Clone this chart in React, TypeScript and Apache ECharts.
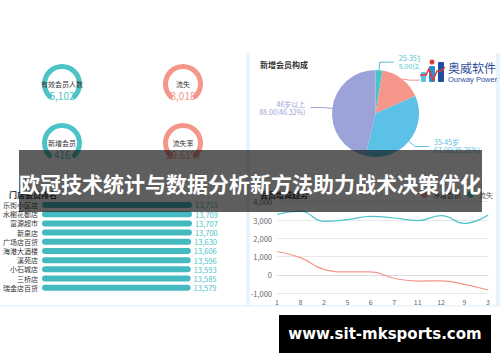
import React, { useEffect, useRef } from "react";
import * as echarts from "echarts";

const gaugeNames = ["有效会员人数", "流失", "新增会员", "流失率"];
const gaugeValues = ["5,102", "3,018", "416", "29.61%"];
const gaugeColors = ["#4cc3c7", "#f4978a", "#4cc3c7", "#f4978a"];

const pieNames = ["25-35岁", "18-25岁", "35-45岁", "46岁以上"];
const pieValues = [5, 30, 67, 88];
const pieColors = ["#4cc3c7", "#f4978a", "#5bc1e7", "#9ba3d9"];

const storeNames = ["乐街小区店", "水榭花都店", "富源超市", "新泉店", "广场店百货", "海港大酒楼", "溪苑店", "小石城店", "三桥店", "瑞金店百货"];
const storeValues = [13711, 13709, 13707, 13700, 13630, 13606, 13596, 13593, 13585, 13579];

const monthLabels = ["1", "8", "2", "5", "6", "7", "11", "12", "9", "3"];
const netValues = [1280, 950, 310, 165, 170, -180, -330, -320, -510, -820];
const lostValues = [3300, 3480, 2930, 3020, 3200, 3110, 2970, 3240, 2820, 3280];
const yTicks = { min: -1000, max: 4000, interval: 1000 };

export default function App() {
  const ref = useRef<HTMLDivElement>(null);
  useEffect(() => {
    if (!ref.current) return;
    const chart = echarts.init(ref.current, undefined, { renderer: "svg" });
    const gaugeCenters = [
      [62, 84],
      [183, 84],
      [62, 143],
      [183, 143],
    ];
    const gauges = gaugeNames.map((n, i) => ({
      type: "gauge",
      center: gaugeCenters[i],
      radius: 20,
      startAngle: 225,
      endAngle: -45,
      min: 0,
      max: 1,
      pointer: { show: false },
      axisTick: { show: false },
      splitLine: { show: false },
      axisLabel: { show: false },
      axisLine: { roundCap: true, lineStyle: { width: 5, color: [[1, gaugeColors[i]]] } },
      title: { offsetCenter: [0, 0], fontSize: 7, color: "#333" },
      detail: {
        offsetCenter: [0, 11],
        fontSize: 10,
        fontWeight: "normal",
        color: gaugeColors[i],
        formatter: () => gaugeValues[i],
      },
      data: [{ value: 1, name: n }],
    }));
    const F = "'Noto Sans CJK SC', 'Noto Sans', sans-serif";
    chart.setOption({
      animation: false,
      textStyle: { fontFamily: F },
      title: [
        { text: "新增会员构成", left: 255, top: 55, textStyle: { fontSize: 8, fontWeight: "bold", color: "#333" } },
        { text: "门店会员排名", left: 4, top: 185, textStyle: { fontSize: 8, fontWeight: "bold", color: "#333" } },
        { text: "会员增减趋势", left: 255, top: 185, textStyle: { fontSize: 8, fontWeight: "bold", color: "#333" } },
      ],
      legend: {
        data: ["净增会员", "流失"],
        right: 2,
        top: 186,
        itemWidth: 7,
        itemHeight: 7,
        itemGap: 6,
        icon: "circle",
        textStyle: { fontSize: 7, color: "#666" },
      },
      grid: [
        { left: 40, width: 152, top: 200.4, height: 91.9 },
        { left: 277, right: 12, top: 201.7, bottom: 68.7 },
      ],
      xAxis: [
        { gridIndex: 0, type: "value", min: 0, max: 13711, show: false },
        {
          gridIndex: 1,
          type: "category",
          data: monthLabels,
          boundaryGap: false,
          axisLine: { lineStyle: { color: "#ddd" } },
          axisTick: { show: false },
          axisLabel: { fontSize: 7, color: "#666", margin: 5 },
        },
      ],
      yAxis: [
        {
          gridIndex: 0,
          type: "category",
          data: storeNames,
          inverse: true,
          axisLine: { show: false },
          axisTick: { show: false },
          axisLabel: { fontSize: 7, color: "#333", margin: 4 },
        },
        {
          gridIndex: 1,
          type: "value",
          min: yTicks.min,
          max: yTicks.max,
          interval: yTicks.interval,
          axisLine: { show: false },
          axisTick: { show: false },
          splitLine: { lineStyle: { color: "#e8e8e8" } },
          axisLabel: { fontSize: 7.5, color: "#666", margin: 5 },
        },
      ],
      series: [
        ...gauges,
        {
          type: "pie",
          center: [375.5, 113.5],
          radius: 43.5,
          startAngle: 90,
          label: {
            fontSize: 7,
            lineHeight: 8,
            formatter: (p: any) => `${p.name}\n${p.value.toFixed(2)}(${p.percent.toFixed(2)}%)`,
          },
          labelLine: { length: 8, length2: 14, lineStyle: { width: 1 } },
          data: pieNames.map((n, i) => ({
            name: n,
            value: pieValues[i],
            itemStyle: { color: pieColors[i] },
            label: { color: pieColors[i] },
          })),
        },
        {
          type: "bar",
          xAxisIndex: 0,
          yAxisIndex: 0,
          data: storeValues,
          barWidth: 6,
          itemStyle: { color: "#45b9c0", borderRadius: 3 },
          label: {
            show: true,
            position: "right",
            distance: 3,
            fontSize: 7.5,
            color: "#4cc3c7",
            formatter: (p: any) => p.value.toLocaleString("en-US"),
          },
        },
        {
          type: "line",
          name: "净增会员",
          xAxisIndex: 1,
          yAxisIndex: 1,
          data: netValues,
          smooth: true,
          showSymbol: false,
          itemStyle: { color: "#f4978a" },
          lineStyle: { width: 1.2, color: "#f4978a" },
        },
        {
          type: "line",
          name: "流失",
          xAxisIndex: 1,
          yAxisIndex: 1,
          data: lostValues,
          smooth: true,
          showSymbol: false,
          itemStyle: { color: "#4cc3c7" },
          lineStyle: { width: 1.2, color: "#4cc3c7" },
        },
      ],
      graphic: [
        { type: "rect", z: 1, shape: { x: 246, y: 53, width: 4, height: 253 }, style: { fill: "#e9f3fb" } },
        { type: "rect", z: 1, shape: { x: 496, y: 53, width: 4, height: 253 }, style: { fill: "#e9f3fb" } },
        { type: "rect", z: 1, shape: { x: 0, y: 305, width: 500, height: 1.5 }, style: { fill: "#e9f3fb" } },
        // logo
        { type: "rect", z: 100, shape: { x: 420, y: 54, width: 76, height: 36 }, style: { fill: "#ffffff" } },
        { type: "rect", z: 101, shape: { x: 421, y: 72, width: 5, height: 10, r: 1 }, style: { fill: "#5bc1e7" } },
        { type: "rect", z: 101, shape: { x: 429, y: 66, width: 6, height: 16, r: 1 }, style: { fill: "#2a8fd6" } },
        { type: "rect", z: 101, shape: { x: 438, y: 62, width: 6, height: 20, r: 1 }, style: { fill: "#1f4f9e" } },
        {
          type: "polyline",
          z: 102,
          shape: { points: [[420, 75], [426, 75], [429, 69], [433, 80], [437, 71], [441, 71], [445, 67]] },
          style: { stroke: "#e03535", lineWidth: 1.5, fill: "none" },
        },
        { type: "circle", z: 102, shape: { cx: 432, cy: 62, r: 2.5 }, style: { fill: "#e03535" } },
        {
          type: "text",
          z: 101,
          x: 448,
          y: 61,
          style: { text: "奥威软件", fontSize: 12, fill: "#2f4f9a", fontFamily: F },
        },
        {
          type: "text",
          z: 101,
          x: 448,
          y: 75,
          style: { text: "Ourway Power", fontSize: 7.5, fill: "#2f4f9a", fontFamily: "'Liberation Sans', sans-serif" },
        },
        // banner
        { type: "rect", z: 200, shape: { x: 19, y: 150, width: 463, height: 62 }, style: { fill: "rgba(10,10,10,0.66)" } },
        {
          type: "text",
          z: 201,
          x: 250,
          y: 183,
          style: {
            text: "欧冠技术统计与数据分析新方法助力战术决策优化",
            fontSize: 21,
            fontWeight: "bold",
            fill: "#ffffff",
            align: "center",
            verticalAlign: "middle",
            fontFamily: F,
          },
        },
        // watermark
        { type: "rect", z: 200, shape: { x: 279, y: 315, width: 212, height: 38 }, style: { fill: "#000000" } },
        {
          type: "text",
          z: 201,
          x: 385,
          y: 334,
          style: {
            text: "www.sit-mksports.com",
            fontSize: 15,
            fontWeight: "bold",
            fill: "#ffffff",
            align: "center",
            verticalAlign: "middle",
            fontFamily: "'DejaVu Sans', sans-serif",
          },
        },
      ],
    });
    return () => chart.dispose();
  }, []);
  return <div ref={ref} style={{ position: "fixed", left: 0, top: 0, width: 500, height: 362, background: "#fff" }} />;
}
